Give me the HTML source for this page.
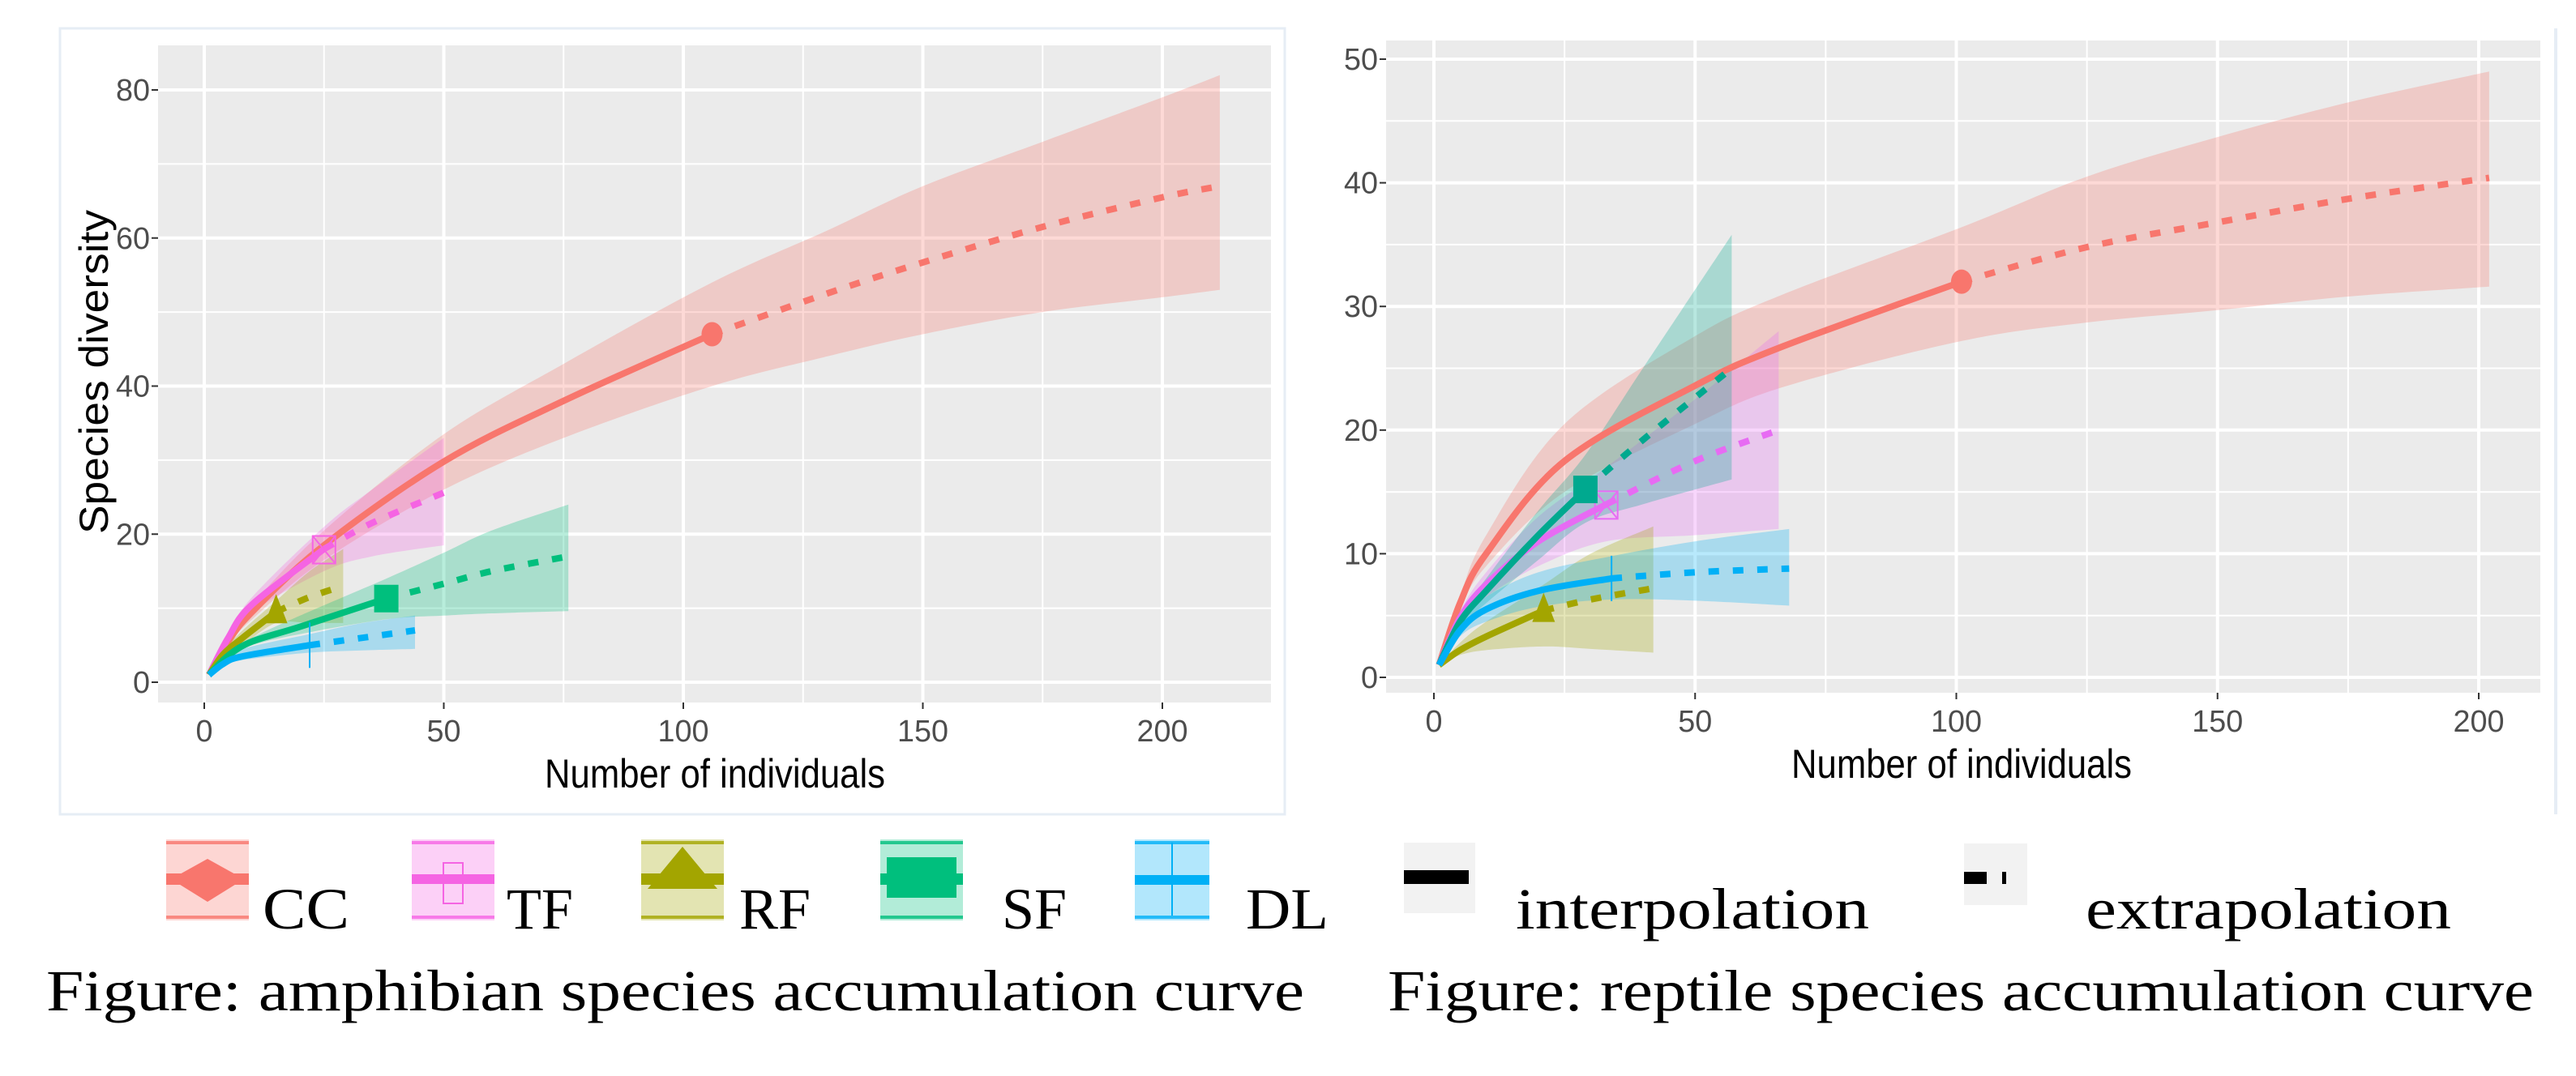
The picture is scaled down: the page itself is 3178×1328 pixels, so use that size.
<!DOCTYPE html>
<html><head><meta charset="utf-8">
<style>
html,body{margin:0;padding:0;background:#fff;}
svg{display:block;}
</style></head>
<body>
<svg id="fig" width="3178" height="1328" viewBox="0 0 3178 1328" xmlns="http://www.w3.org/2000/svg">
<rect x="74" y="35" width="1511" height="970" fill="#fff" stroke="#e6edf5" stroke-width="3"/>
<line x1="3153" y1="35" x2="3153" y2="1005" stroke="#e6edf5" stroke-width="4"/>
<g id="left"></g>
<g id="right"></g>
<g id="legend"></g>
<text x="57" y="1247" font-family="Liberation Serif, serif" font-size="72" textLength="1552" lengthAdjust="spacingAndGlyphs">Figure: amphibian species accumulation curve</text>
<text x="1712" y="1247" font-family="Liberation Serif, serif" font-size="72" textLength="1414" lengthAdjust="spacingAndGlyphs">Figure: reptile species accumulation curve</text>
</svg>
<script>
// ---- colours ----
const seriesNames = ["CC","TF","RF","SF","DL"];
const colorsL = {CC:"#F8766D",TF:"#F564E3",RF:"#A3A500",SF:"#00BF7D",DL:"#00B0F6"};
const colorsR = {CC:"#F8766D",TF:"#E76BF3",RF:"#A3A500",SF:"#00A98F",DL:"#00B0F6"};

// ---- amphibian data ----
const aCCx=[1,5,10,25,50,75,106,130,150,175,200,212];
const aCCy=[1,5.5,9.5,18.5,29.8,38,47,52.5,56.7,61.5,65.5,67];
const aCClo=[1,5,8.5,16.5,26,33,40,44,47,50,52,53];
const aCChi=[1,6,10.5,20.5,33.5,43,54,61,67,73,79,82];
const aCCobs=106;
const aTFx=[1,5,10,25,35,50];
const aTFy=[1,6,10.5,18,21.5,25.6];
const aTFlo=[1,5.5,9.5,15,17,18.5];
const aTFhi=[1,6.5,11.5,21,26,33];
const aTFobs=25;
const aRFx=[1,4,8,15,22,29];
const aRFy=[1,3.8,6,9.5,11.5,13];
const aRFlo=[1,3.4,5,8,8,8];
const aRFhi=[1,4.2,7,11,15,18];
const aRFobs=15;
const aSFx=[1,5,10,20,38,50,60,76];
const aSFy=[1,3.6,5.5,7.5,11.3,13.3,15,17];
const aSFlo=[1,3.3,5,6.5,8.5,9,9.3,9.6];
const aSFhi=[1,3.9,6,9,14,17.5,20.5,24];
const aSFobs=38;
const aDLx=[1,4,8,22,33,44];
const aDLy=[1,2.5,3.5,5,6,7];
const aDLlo=[1,2.2,3,4,4.3,4.5];
const aDLhi=[1,2.8,4.5,6.5,8,9];
const aDLobs=22;
const aYticks=[0,20,40,60,80];
const aXticks=[0,50,100,150,200];

// ---- reptile data ----
const rCCx=[1,5,10,25,50,67,101,125,150,175,202];
const rCCy=[1,6,10,17.5,23.6,26.8,32,34.8,36.8,38.7,40.4];
const rCClo=[1,5.5,9,15,20.5,23.5,27.2,28.7,29.7,30.8,31.6];
const rCChi=[1,6.5,11.5,20.5,27.6,31,36.4,40.5,43.7,46.5,49];
const rCCobs=101;
const rTFx=[1,5,10,20,33,50,66];
const rTFy=[1,4.8,7.5,11,14,17.5,20];
const rTFlo=[1,4.3,6.5,9,11,11.5,12];
const rTFhi=[1,5.3,8.5,13,17,22.5,28];
const rTFobs=33;
const rRFx=[1,5,10,21,30,42];
const rRFy=[1,2.2,3.3,5.4,6.3,7.2];
const rRFlo=[1,1.8,2.2,2.5,2.3,2];
const rRFhi=[1,2.8,4.5,7.5,10,12.2];
const rRFobs=21;
const rSFx=[1,5,10,20,29,40,57];
const rSFy=[1,4.5,7,11.5,15.2,19.2,25];
const rSFlo=[1,4,6,9.5,12.5,14,16];
const rSFhi=[1,5,8,13.5,18,25,35.8];
const rSFobs=29;
const rDLx=[1,5,10,20,34,50,68];
const rDLy=[1,3.8,5.5,7,8,8.5,8.8];
const rDLlo=[1,3.3,4.5,5.7,6.3,6.2,5.8];
const rDLhi=[1,4.3,6.5,8.5,9.8,11,12];
const rDLobs=34;
const rYticks=[0,10,20,30,40,50];
const rXticks=[0,50,100,150,200];

const NS="http://www.w3.org/2000/svg";
function mk(tag,parent,attrs){const e=document.createElementNS(NS,tag);for(const k in attrs)e.setAttribute(k,attrs[k]);parent.appendChild(e);return e;}
// smooth path through points (Catmull-Rom -> Bezier)
function smooth(pts,start){
  let d=(start?'M':'L')+pts[0][0].toFixed(1)+','+pts[0][1].toFixed(1);
  for(let i=0;i<pts.length-1;i++){
    const p0=pts[Math.max(0,i-1)],p1=pts[i],p2=pts[i+1],p3=pts[Math.min(pts.length-1,i+2)];
    const c1=[p1[0]+(p2[0]-p0[0])/6,p1[1]+(p2[1]-p0[1])/6];
    const c2=[p2[0]-(p3[0]-p1[0])/6,p2[1]-(p3[1]-p1[1])/6];
    d+='C'+c1[0].toFixed(1)+','+c1[1].toFixed(1)+' '+c2[0].toFixed(1)+','+c2[1].toFixed(1)+' '+p2[0].toFixed(1)+','+p2[1].toFixed(1);
  }
  return d;
}

function drawChart(g,cfg){
  const sx=v=>cfg.x0+(v-cfg.xa)*(cfg.x1-cfg.x0)/(cfg.xb-cfg.xa);
  const sy=v=>cfg.y0+(v-cfg.ya)*(cfg.y1-cfg.y0)/(cfg.yb-cfg.ya);
  const bg=mk('rect',g,{x:cfg.L,y:cfg.T,width:cfg.R-cfg.L,height:cfg.B-cfg.T,fill:'#EBEBEB'});
  
  
  const yt=cfg.yticks, xt=cfg.xticks;
  for(let i=0;i<yt.length-1;i++){const v=(yt[i]+yt[i+1])/2;const l=mk('line',g,{x1:cfg.L,x2:cfg.R,y1:sy(v),y2:sy(v),stroke:'#fff','stroke-width':2});
    
    }
  for(let i=0;i<xt.length-1;i++){const v=(xt[i]+xt[i+1])/2;const l=mk('line',g,{x1:sx(v),x2:sx(v),y1:cfg.T,y2:cfg.B,stroke:'#fff','stroke-width':2});
    
    }
  yt.forEach(v=>{const l=mk('line',g,{x1:cfg.L,x2:cfg.R,y1:sy(v),y2:sy(v),stroke:'#fff','stroke-width':4});
    
    
    const tk=mk('line',g,{x1:cfg.L-8,x2:cfg.L,y1:sy(v),y2:sy(v),stroke:'#333','stroke-width':2});
    
    
    const s=String(v);
    const t=mk('text',g,{x:cfg.L-10,y:sy(v)+13,'text-anchor':'end','font-family':'Liberation Sans, sans-serif','font-size':38,fill:'#4D4D4D',textLength:21*s.length,lengthAdjust:'spacingAndGlyphs'});
    t.textContent=s;
    
    });
  xt.forEach(v=>{const l=mk('line',g,{x1:sx(v),x2:sx(v),y1:cfg.T,y2:cfg.B,stroke:'#fff','stroke-width':4});
    
    
    const tk=mk('line',g,{x1:sx(v),x2:sx(v),y1:cfg.B,y2:cfg.B+8,stroke:'#333','stroke-width':2});
    
    
    const s=String(v);
    const t=mk('text',g,{x:sx(v),y:cfg.B+48,'text-anchor':'middle','font-family':'Liberation Sans, sans-serif','font-size':38,fill:'#4D4D4D',textLength:21*s.length,lengthAdjust:'spacingAndGlyphs'});
    t.textContent=s;
    
    });
  const xtT=mk('text',g,{x:cfg.xTitleX,y:cfg.B+105,'text-anchor':'middle','font-family':'Liberation Sans, sans-serif','font-size':50,fill:'#000',textLength:420,lengthAdjust:'spacingAndGlyphs'});
  xtT.textContent='Number of individuals';
  
  
  if(cfg.yTitle){
    const yT=mk('text',g,{x:0,y:0,'text-anchor':'middle','font-family':'Liberation Sans, sans-serif','font-size':50,fill:'#000',textLength:400,lengthAdjust:'spacingAndGlyphs',transform:`translate(${cfg.yTitleX},${cfg.yTitleY}) rotate(-90)`});
    yT.textContent='Species diversity';
    
    
  }
  cfg.series.forEach(s=>{
    const up=s.x.map((v,i)=>[sx(v),sy(s.hi[i])]);
    const dn=s.x.map((v,i)=>[sx(v),sy(s.lo[i])]).reverse();
    const d=smooth(up,true)+smooth(dn,false)+'Z';
    const p=mk('path',g,{d:d,fill:s.color,'fill-opacity':0.28});
    
    
  });
  cfg.series.forEach(s=>{
    const k=s.x.indexOf(s.obs);
    const pts=s.x.map((v,i)=>[sx(v),sy(s.y[i])]);
    const a=mk('path',g,{d:smooth(pts.slice(0,k+1),true),fill:'none',stroke:s.color,'stroke-width':8});
    
    
    const b=mk('path',g,{d:smooth(pts.slice(k),true),fill:'none',stroke:s.color,'stroke-width':8,'stroke-dasharray':'13 17'});
    
    
    const mx=sx(s.obs), my=sy(s.y[k]);
    let m;
    if(s.name==='CC') m=mk('ellipse',g,{cx:mx,cy:my,rx:13,ry:15,fill:s.color});
    else if(s.name==='TF'){m=mk('g',g,{});
      mk('rect',m,{x:mx-14,y:my-16,width:28,height:34,fill:'none',stroke:s.color,'stroke-width':2});
      mk('path',m,{d:`M${mx-14},${my-16}L${mx+14},${my+18}M${mx+14},${my-16}L${mx-14},${my+18}`,stroke:s.color,'stroke-width':2});}
    else if(s.name==='RF') m=mk('path',g,{d:`M${mx},${my-22}L${mx+14},${my+14}L${mx-14},${my+14}Z`,fill:s.color});
    else if(s.name==='SF') m=mk('rect',g,{x:mx-15,y:my-17,width:30,height:34,fill:s.color});
    else m=mk('line',g,{x1:mx,x2:mx,y1:my-28,y2:my+28,stroke:s.color,'stroke-width':2});
    
    
  });
}
function mkSeries(p,colors){
  return seriesNames.map(n=>({name:n,color:colors[n],x:eval(p+n+'x'),y:eval(p+n+'y'),lo:eval(p+n+'lo'),hi:eval(p+n+'hi'),obs:eval(p+n+'obs')}));
}
drawChart(document.getElementById('left'),{L:195,R:1568,T:56,B:867,xa:0,xb:200,x0:252,x1:1434,ya:0,yb:80,y0:842,y1:111,
  yticks:aYticks,xticks:aXticks,xTitleX:882,yTitle:true,yTitleX:133,yTitleY:459,series:mkSeries('a',colorsL)});
drawChart(document.getElementById('right'),{L:1710,R:3134,T:50,B:855,xa:0,xb:200,x0:1769,x1:3058,ya:0,yb:50,y0:836,y1:73,
  yticks:rYticks,xticks:rXticks,xTitleX:2420,yTitle:false,series:mkSeries('r',colorsR)});

// legend
const legLabels=["CC","TF","RF","SF","DL"];
const legKeyX=[205,508,791,1086,1400];
const legTextX=[324,625,912,1236,1537];
const legTextW=[107,82,88,80,102];
const lg=document.getElementById('legend');
legLabels.forEach((n,i)=>{
  const c=colorsL[n];const x=legKeyX[i];const w=n==='DL'?92:102;
  const kg=mk('g',lg,{});
  
  
  mk('rect',kg,{x:x,y:1036,width:w,height:100,fill:c,'fill-opacity':0.3});
  mk('rect',kg,{x:x,y:1038,width:w,height:4,fill:c,'fill-opacity':0.8});
  mk('rect',kg,{x:x,y:1130,width:w,height:4,fill:c,'fill-opacity':0.8});
  const cx=x+w/2;
  if(n==='CC')mk('path',kg,{d:`M${cx},${1060}L${x+w-6},${1085}L${cx},${1113}L${x+6},${1085}Z`,fill:c});
  if(n==='CC')mk('rect',kg,{x:x,y:1078,width:w,height:14,fill:c});
  if(n==='TF'){mk('rect',kg,{x:x,y:1079,width:w,height:12,fill:c});mk('rect',kg,{x:cx-12,y:1065,width:24,height:50,fill:'none',stroke:c,'stroke-width':2});}
  if(n==='RF'){mk('path',kg,{d:`M${cx},1045L${x+w-8},1097L${x+8},1097Z`,fill:c});mk('rect',kg,{x:x,y:1078,width:w,height:14,fill:c});}
  if(n==='SF'){mk('rect',kg,{x:x+8,y:1058,width:w-16,height:50,fill:c});mk('rect',kg,{x:x,y:1078,width:w,height:14,fill:c});}
  if(n==='DL'){mk('rect',kg,{x:x,y:1080,width:w,height:12,fill:c});mk('line',kg,{x1:cx,x2:cx,y1:1040,y2:1130,stroke:c,'stroke-width':2});}
  const t=mk('text',lg,{x:legTextX[i],y:1146,'font-family':'Liberation Serif, serif','font-size':72,fill:'#000',textLength:legTextW[i],lengthAdjust:'spacingAndGlyphs'});
  t.textContent=n;
  
  
});
const ik=mk('g',lg,{});


mk('rect',ik,{x:1732,y:1040,width:88,height:87,fill:'#F2F2F2'});
mk('rect',ik,{x:1732,y:1074,width:80,height:17,fill:'#000'});
const it=mk('text',lg,{x:1870,y:1146,'font-family':'Liberation Serif, serif','font-size':72,fill:'#000',textLength:436,lengthAdjust:'spacingAndGlyphs'});
it.textContent='interpolation';


const ek=mk('g',lg,{});


mk('rect',ek,{x:2423,y:1041,width:78,height:76,fill:'#F2F2F2'});
mk('rect',ek,{x:2423,y:1076,width:28,height:15,fill:'#000'});
mk('rect',ek,{x:2470,y:1076,width:5,height:15,fill:'#000'});
const et=mk('text',lg,{x:2573,y:1146,'font-family':'Liberation Serif, serif','font-size':72,fill:'#000',textLength:451,lengthAdjust:'spacingAndGlyphs'});
et.textContent='extrapolation';


</script>
</body></html>
